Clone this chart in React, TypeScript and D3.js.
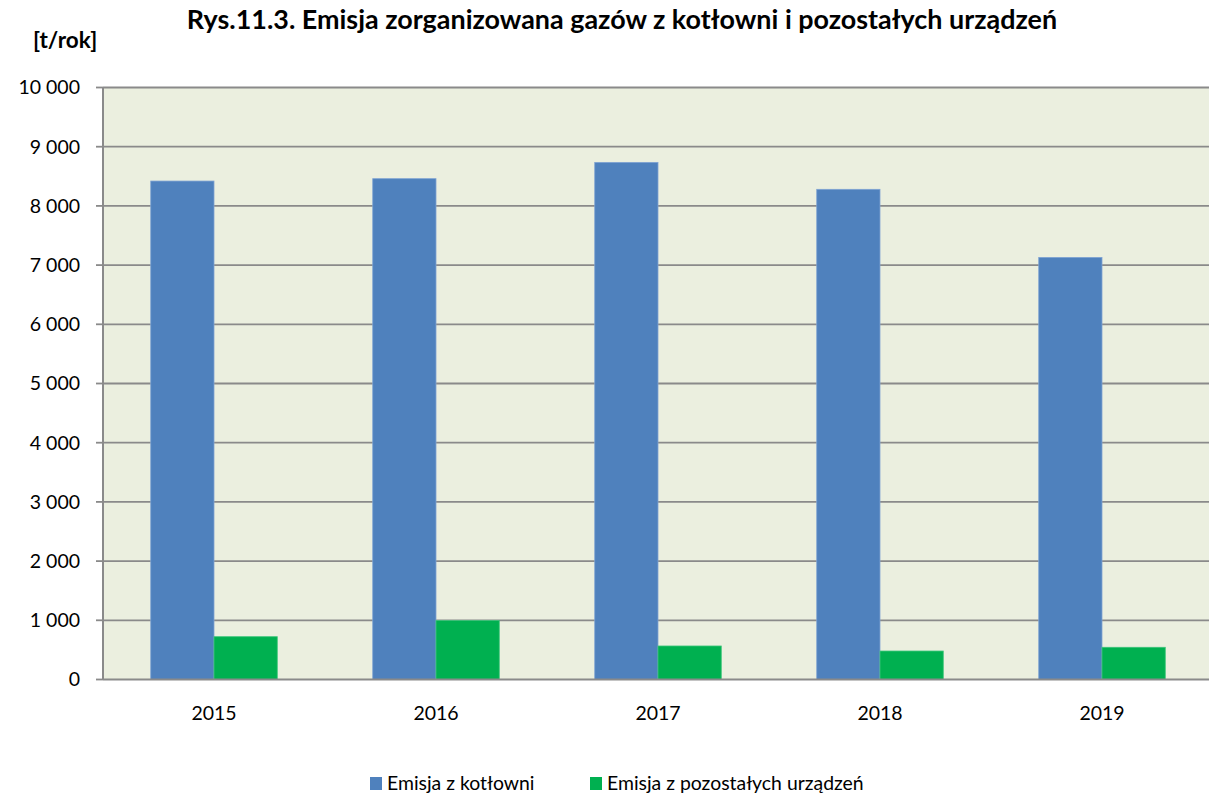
import React from "react";
import * as d3 from "d3";

const years = ["2015", "2016", "2017", "2018", "2019"];
const boilerEmission = [8420, 8460, 8735, 8280, 7130];
const otherEmission = [723, 995, 566, 481, 544];
const seriesNames = ["Emisja z kotłowni", "Emisja z pozostałych urządzeń"];
const seriesColors = ["#4F81BD", "#00B050"];
const yTicks = [0, 1000, 2000, 3000, 4000, 5000, 6000, 7000, 8000, 9000, 10000];

const W = 1209;
const H = 793;
const left = 103;
const right = 1213;
const top = 87.5;
const bottom = 679.5;
const font = "Lato, 'Open Sans', sans-serif";

const fmt = (v: number) => d3.format(",")(v).replace(/,/g, " ");

export default function App() {
  const x0 = d3.scaleBand<string>().domain(years).range([left, right]).paddingInner(0.43).paddingOuter(0.215);
  const x1 = d3.scaleBand<number>().domain([0, 1]).range([0, x0.bandwidth()]);
  const y = d3.scaleLinear().domain([0, 10000]).range([bottom, top]);
  const series = [boilerEmission, otherEmission];

  return (
    <div style={{ position: "fixed", left: 0, top: 0, width: W, height: H, overflow: "hidden" }}>
      <svg width={W} height={H} style={{ display: "block", background: "#fff" }}>
        <rect x={left} y={top} width={right - left} height={bottom - top} fill="#EBEFDF" />
        {yTicks.map((t) => (
          <g key={t}>
            {t > 0 && (
              <line x1={left} x2={right} y1={y(t)} y2={y(t)} stroke="#8A8A8A" strokeWidth={1.8} />
            )}
            <line x1={left - 7} x2={left} y1={y(t)} y2={y(t)} stroke="#8A8A8A" strokeWidth={1.8} />
            <text x={80} y={y(t)} dy="0.35em" textAnchor="end" fontFamily={font} fontSize={19.5} fill="#000">
              {fmt(t)}
            </text>
          </g>
        ))}
        {series.map((vals, si) =>
          vals.map((v, i) => (
            <rect
              key={`${si}-${i}`}
              x={(x0(years[i]) ?? 0) + (x1(si) ?? 0)}
              y={y(v)}
              width={x1.bandwidth()}
              height={bottom - y(v)}
              fill={seriesColors[si]}
              stroke={si === 0 ? "#7FA3D3" : "#3CC57A"}
              strokeWidth={0.8}
            />
          ))
        )}
        <line x1={left} x2={left} y1={top} y2={bottom} stroke="#8A8A8A" strokeWidth={2} />
        <line x1={left} x2={right} y1={bottom} y2={bottom} stroke="#8A8A8A" strokeWidth={2.2} />
        {years.map((yr) => (
          <text
            key={yr}
            x={(x0(yr) ?? 0) + x0.bandwidth() / 2}
            y={720}
            textAnchor="middle"
            fontFamily={font}
            fontSize={19.5}
            fill="#000"
          >
            {yr}
          </text>
        ))}
        <text x={622} y={29} textAnchor="middle" fontFamily={font} fontWeight="bold" fontSize={26.9} fill="#000">
          Rys.11.3. Emisja zorganizowana gazów z kotłowni i pozostałych urządzeń
        </text>
        <text x={33} y={48} fontFamily={font} fontWeight="bold" fontSize={22.5} fill="#000">
          [t/rok]
        </text>
        {seriesNames.map((name, i) => {
          const lx = [370, 590][i];
          return (
            <g key={name}>
              <rect x={lx} y={777} width={12} height={13} fill={seriesColors[i]} />
              <text x={lx + 17} y={790} fontFamily={font} fontSize={19.4} fill="#000">
                {name}
              </text>
            </g>
          );
        })}
      </svg>
    </div>
  );
}
